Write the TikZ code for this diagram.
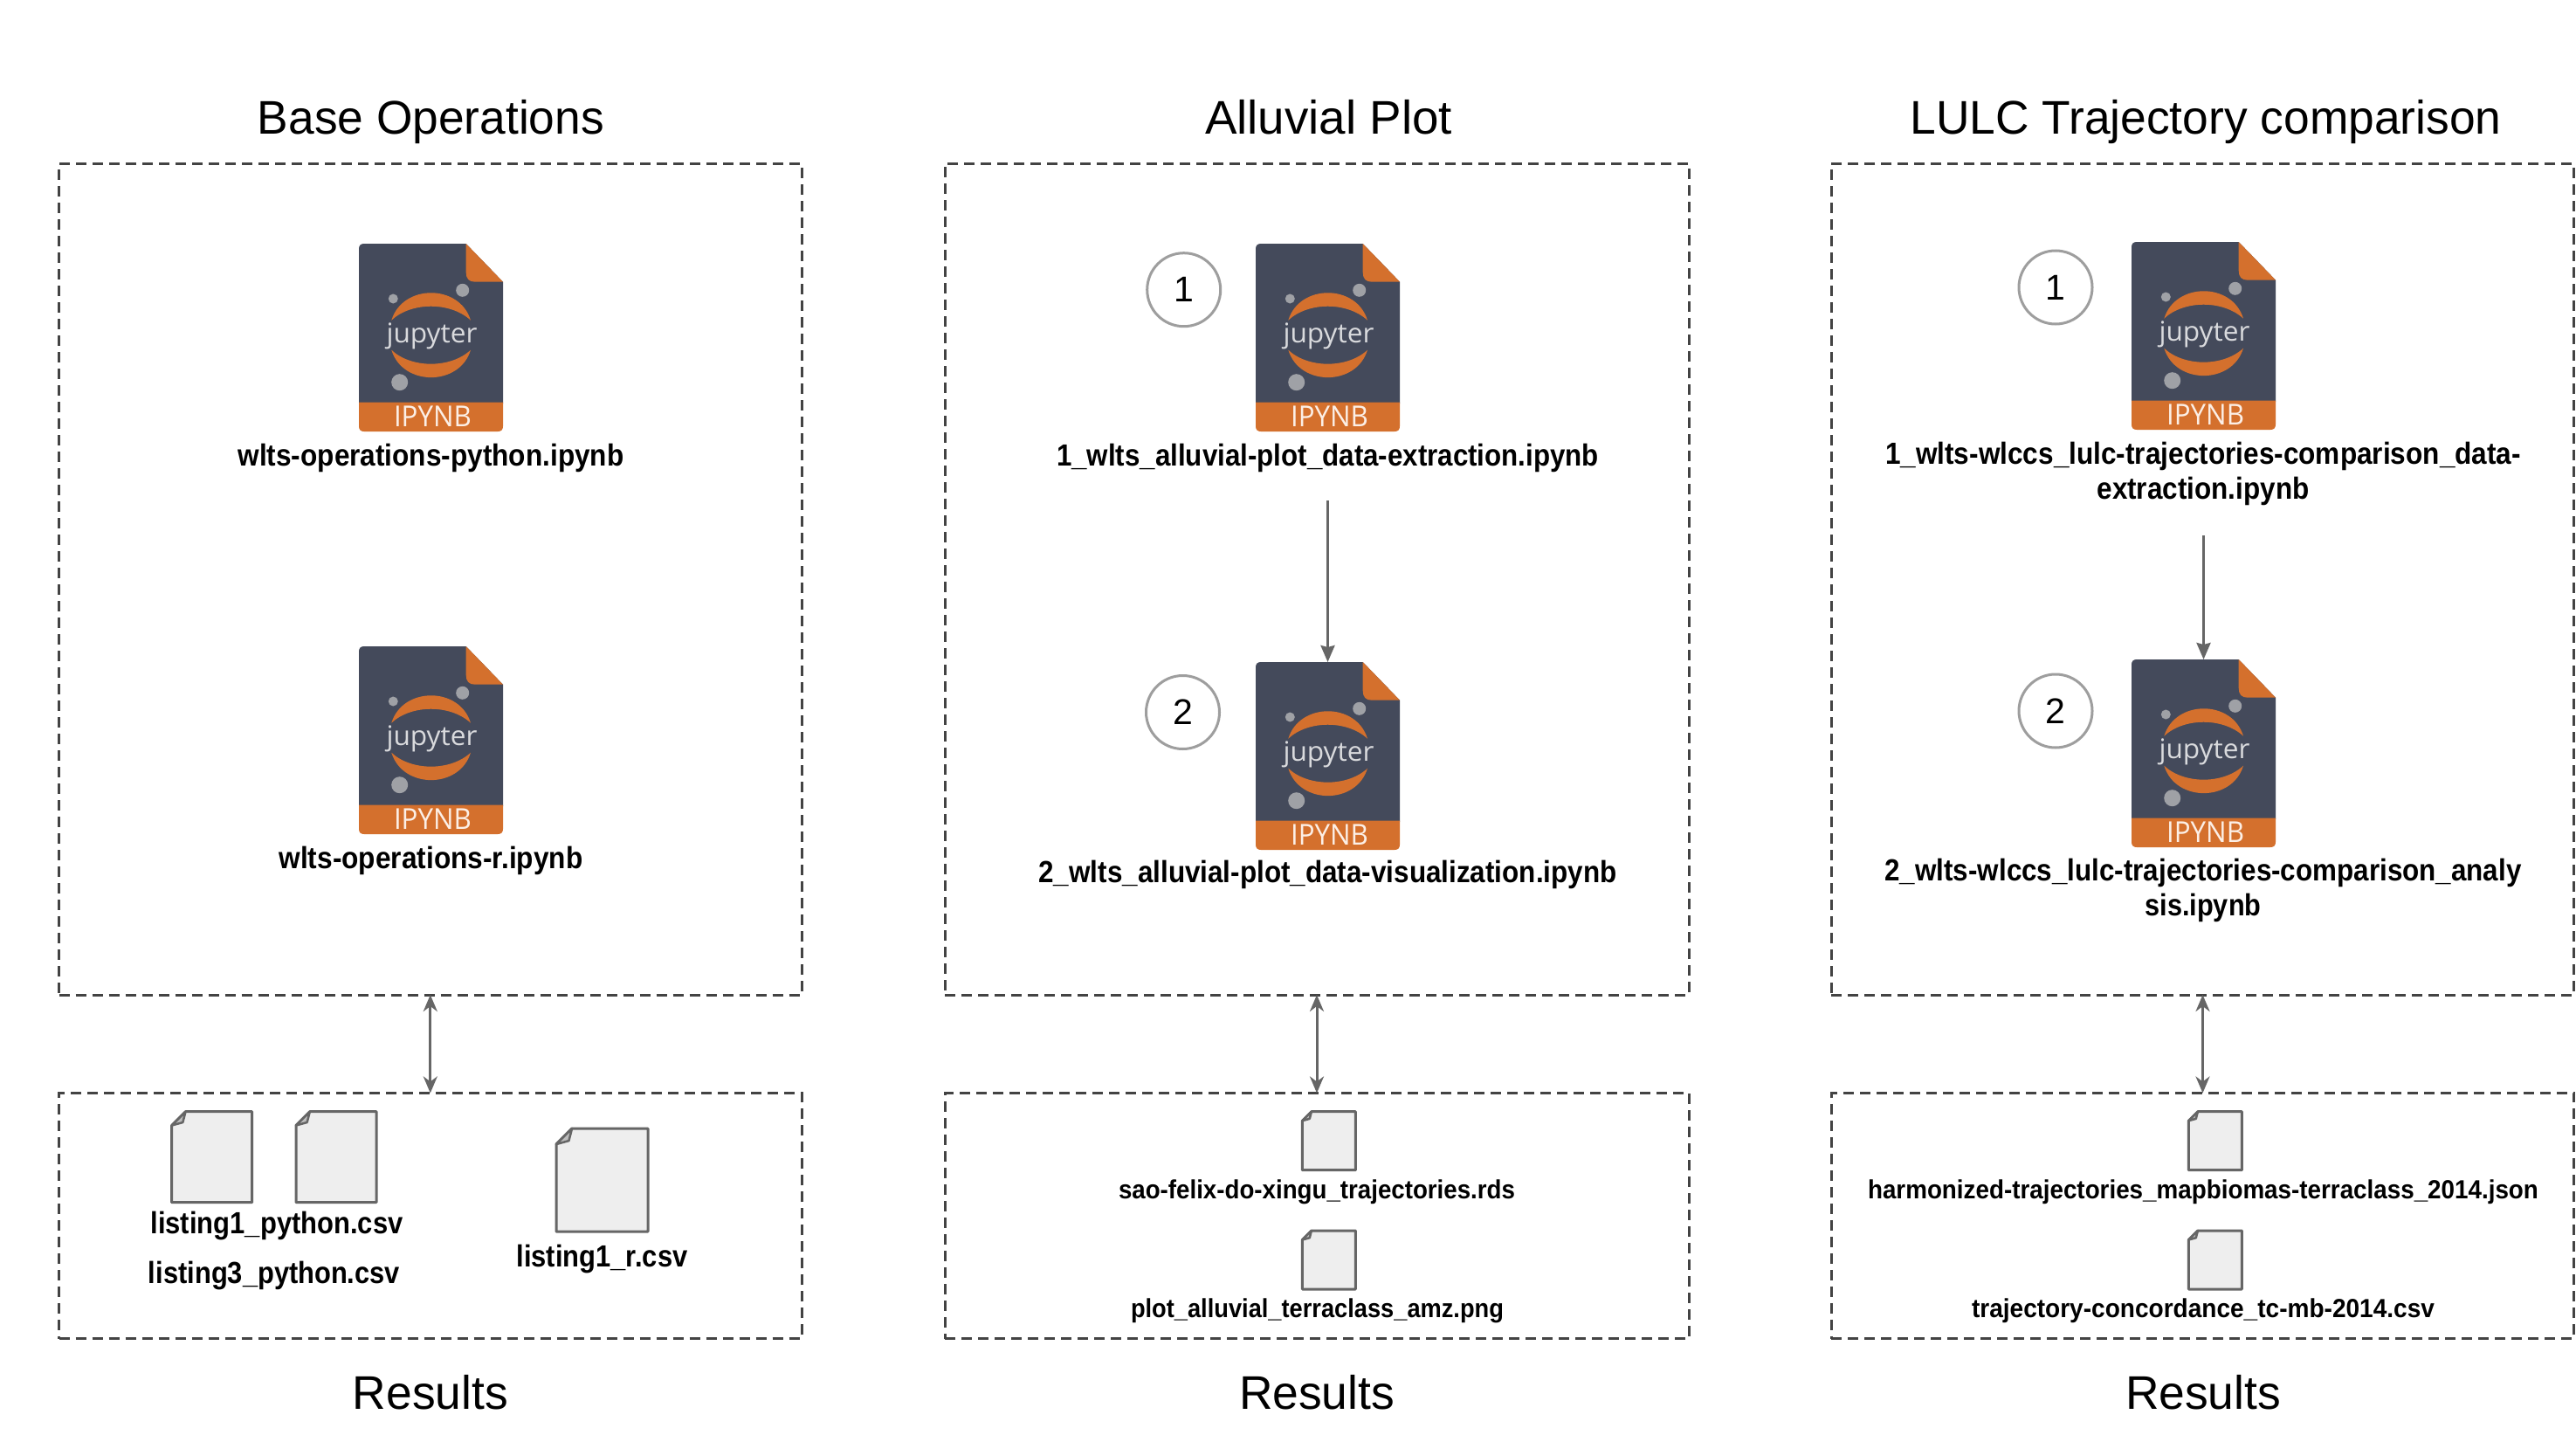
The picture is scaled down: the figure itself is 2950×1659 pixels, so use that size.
\documentclass[tikz,border=0pt]{standalone}
\usepackage{fontspec}
\usepackage{graphicx}
\setmainfont{Liberation Sans}
\newfontfamily\logofont{Open Sans}
\usetikzlibrary{arrows.meta}
\definecolor{nbdark}{HTML}{444A5B}
\definecolor{nborange}{HTML}{D4702D}
\definecolor{nbdot}{HTML}{9FA1A6}
\definecolor{nbtext}{HTML}{D9DADD}
\definecolor{nbband}{HTML}{FCEFE6}
\definecolor{dashcol}{HTML}{434343}
\definecolor{arrowcol}{HTML}{666666}
\definecolor{filefill}{HTML}{EEEEEE}
\definecolor{filefold}{HTML}{BDBDBD}
\definecolor{ringcol}{HTML}{9E9E9E}
\newcommand{\fitw}[2]{\resizebox{#1pt}{\height}{#2}}
\tikzset{
  panel/.style={draw=dashcol,line width=3pt,dash pattern=on 12pt off 7pt,inner sep=0pt,outer sep=0pt,rectangle},
  heading/.style={anchor=base,inner sep=0pt,font=\fontsize{54}{60}\selectfont,text=black},
  biglabel/.style={anchor=base,inner sep=0pt,font=\fontsize{35}{41}\bfseries\selectfont,text=black},
  wraplabel/.style={anchor=north,inner sep=0pt,align=center,font=\fontsize{35}{39.5}\bfseries\selectfont,text=black},
  smalllabel/.style={anchor=base,inner sep=0pt,font=\fontsize{30}{35}\bfseries\selectfont,text=black},
  badge/.style={circle,draw=ringcol,line width=3pt,fill=white,minimum size=84pt,inner sep=0pt,font=\fontsize{41}{46}\selectfont},
  iconspot/.style={rectangle,minimum width=165pt,minimum height=215pt,inner sep=0pt,outer sep=0pt},
  flow/.style={draw=arrowcol,line width=3pt,-{Stealth[length=19pt,width=16pt,inset=2pt]}},
  link/.style={draw=arrowcol,line width=3pt,{Stealth[length=19pt,width=16pt,inset=6pt]}-{Stealth[length=19pt,width=16pt,inset=6pt]}}
}
% name, left, top
\newcommand{\nbicon}[3]{%
  \begin{scope}[shift={(#2,#3)}]
    \node[iconspot] (#1) at (82.5,107.5) {};
    \fill[nbdark] (0,6) .. controls (0,2) and (2,0) .. (6,0) -- (122.7,0) -- (165,43.7) -- (165,183) -- (0,183) -- cycle;
    \fill[nborange] (122.7,0) -- (165,43.7) -- (133,43.7) .. controls (126,43.7) and (122.7,40) .. (122.7,33) -- cycle;
    \fill[nborange] (0,181.7) -- (165,181.7) -- (165,209) .. controls (165,213) and (163,215) .. (159,215) -- (6,215) .. controls (2,215) and (0,213) .. (0,209) -- cycle;
    \fill[nbdot] (39.3,63) circle[radius=5.5];
    \fill[nbdot] (118.7,53.3) circle[radius=7.5];
    \fill[nbdot] (46.7,158.7) circle[radius=9.5];
    \fill[nborange] (37.3,87.7) .. controls (50,45.8) and (115.4,45.8) .. (128,87.7) .. controls (105,66.4) and (60,66.4) .. (37.3,87.7) -- cycle;
    \fill[nborange] (37.3,121.7) .. controls (50,163.6) and (115.4,163.6) .. (128,121.7) .. controls (105,143) and (60,143) .. (37.3,121.7) -- cycle;
    \node[anchor=base,inner sep=0pt,text=nbtext,font=\logofont\fontsize{31}{36}\selectfont] (#1-logo) at (83.5,113) {\fitw{104}{jupyter}};
    \node[anchor=base,inner sep=0pt,text=nbband,font=\logofont\fontsize{33}{36}\selectfont] (#1-ext) at (84.5,209) {\fitw{89}{IPYNB}};
  \end{scope}}
% left, top, width, height
\newcommand{\datafile}[4]{%
  \begin{scope}[shift={(#1,#2)}]
    \pgfmathsetmacro{\ff}{0.172*#3}
    \filldraw[draw=arrowcol,fill=filefill,line width=3pt,line join=round] (\ff,0) -- (#3,0) -- (#3,#4) -- (0,#4) -- (0,\ff) -- cycle;
    \filldraw[draw=arrowcol,fill=filefold,line width=2.5pt,line join=round] (\ff,0) -- (0.8*\ff,0.78*\ff) -- (0,\ff) -- cycle;
  \end{scope}}
\begin{document}
\begin{tikzpicture}[x=1pt,y=-1pt]
\useasboundingbox (0,0) rectangle (2950,1659);
\fill[white] (0,0) rectangle (2950,1659);

% panels
\node[panel,minimum width=850.5pt,minimum height=952pt] (base) at (492.8,663) {};
\node[panel,minimum width=852pt,minimum height=952pt] (alluvial) at (1508,663) {};
\node[panel,minimum width=850.5pt,minimum height=952pt] (lulc) at (2522.5,663) {};
\node[panel,minimum width=850.5pt,minimum height=281.5pt] (baseres) at (492.8,1392.2) {};
\node[panel,minimum width=852pt,minimum height=281.5pt] (alluvialres) at (1508,1392.2) {};
\node[panel,minimum width=850.5pt,minimum height=281.5pt] (lulcres) at (2522.5,1392.2) {};

% headings
\node[heading] (t1) at (493.5,153.5) {\fitw{397}{Base Operations}};
\node[heading] (t2) at (1521.5,153.5) {\fitw{283}{Alluvial Plot}};
\node[heading] (t3) at (2526,153.5) {\fitw{677}{LULC Trajectory comparison}};
\node[heading] (r1) at (493,1613) {\fitw{178}{Results}};
\node[heading] (r2) at (1508,1613) {\fitw{178}{Results}};
\node[heading] (r3) at (2523,1613) {\fitw{178}{Results}};

% notebooks
\nbicon{b1}{411}{279}
\nbicon{b2}{411}{740}
\nbicon{a1}{1438}{279}
\nbicon{a2}{1438}{758}
\nbicon{l1}{2441}{277}
\nbicon{l2}{2441}{755}

% notebook labels
\node[biglabel] (b1t) at (493.5,533) {\fitw{442}{wlts-operations-python.ipynb}};
\node[biglabel] (b2t) at (493.5,994) {\fitw{348}{wlts-operations-r.ipynb}};
\node[biglabel] (a1t) at (1520.5,533) {\fitw{621}{1\_wlts\_alluvial-plot\_data-extraction.ipynb}};
\node[biglabel] (a2t) at (1520.5,1010) {\fitw{662}{2\_wlts\_alluvial-plot\_data-visualization.ipynb}};
\node[wraplabel] (l1t) at (2523,506) {\fitw{728}{1\_wlts-wlccs\_lulc-trajectories-comparison\_data-}\\\fitw{243}{extraction.ipynb}};
\node[wraplabel] (l2t) at (2523,983) {\fitw{729}{2\_wlts-wlccs\_lulc-trajectories-comparison\_analy}\\\fitw{133}{sis.ipynb}};

% step badges
\node[badge] (s1) at (1355.7,331.7) {1};
\node[badge] (s2) at (1354.5,815.5) {2};
\node[badge] (s3) at (2354,329) {1};
\node[badge] (s4) at (2354,814) {2};

% result files
\datafile{196.7}{1272.7}{92}{104}
\datafile{339}{1272.7}{92}{104}
\datafile{637}{1292}{105}{118}
\datafile{1491.4}{1272.7}{61}{67}
\datafile{1491.4}{1409}{61}{67}
\datafile{2506.4}{1272.7}{61}{67}
\datafile{2506.4}{1409}{61}{67}

% result labels
\node[biglabel] (f1) at (317,1412) {\fitw{289}{listing1\_python.csv}};
\node[biglabel] (f2) at (314,1469) {\fitw{288}{listing3\_python.csv}};
\node[biglabel] (f3) at (689.5,1450) {\fitw{196}{listing1\_r.csv}};
\node[smalllabel] (f4) at (1508,1372) {\fitw{454}{sao-felix-do-xingu\_trajectories.rds}};
\node[smalllabel] (f5) at (1508.5,1508) {\fitw{427}{plot\_alluvial\_terraclass\_amz.png}};
\node[smalllabel] (f6) at (2523,1372) {\fitw{768}{harmonized-trajectories\_mapbiomas-terraclass\_2014.json}};
\node[smalllabel] (f7) at (2523,1508) {\fitw{530}{trajectory-concordance\_tc-mb-2014.csv}};

% connectors
\coordinate (a1out) at (1520.5,573);
\coordinate (l1out) at (2523.5,613);
\draw[flow] (a1out) -- (a2.north);
\draw[flow] (l1out) -- (l2.north);
\draw[link] (base.south) -- (baseres.north);
\draw[link] (alluvial.south) -- (alluvialres.north);
\draw[link] (lulc.south) -- (lulcres.north);
\end{tikzpicture}
\end{document}
